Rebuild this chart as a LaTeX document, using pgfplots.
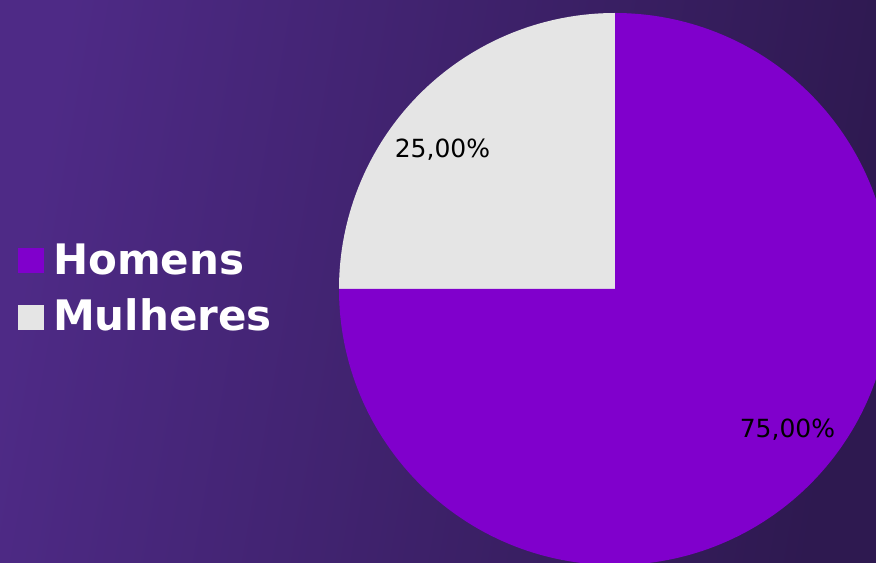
\documentclass[border=0pt]{standalone}
\usepackage{pgfplots}
\pgfplotsset{compat=1.18}
\usepackage{pgfplotstable}
\usepackage{fontspec}
\setmainfont{DejaVu Sans}

\definecolor{bgL}{HTML}{4E2A86}
\definecolor{bgM}{HTML}{45267A}
\definecolor{bgR}{HTML}{2E1950}
\definecolor{homens}{HTML}{8000CC}
\definecolor{mulheres}{HTML}{E5E5E5}

% share of each group, in %
\pgfplotstableread{
label    value
Homens   75
Mulheres 25
}\piedata

\begin{document}
\begin{tikzpicture}
\pgfplotstablegetelem{0}{value}\of\piedata \let\vH\pgfplotsretval
\pgfplotstablegetelem{1}{value}\of\piedata \let\vM\pgfplotsretval
\pgfmathsetmacro\angM{90+3.6*\vM}
\pgfmathsetmacro\angH{\angM+3.6*\vH}

\shade[left color=bgL, middle color=bgM, right color=bgR, shading angle=80] (0,0) rectangle (876bp,563bp);

\begin{axis}[
  x=1bp, y=1bp,
  xmin=0, xmax=876, ymin=0, ymax=563,
  hide axis,
  clip=true,
  at={(0,0)}, anchor=south west,
  /pgf/number format/assume math mode=true,
]
% pie: centre (615,274), radius 276 px
\fill[mulheres] (axis cs:615,274) -- ++(90:276bp)
  arc[start angle=90, end angle=\angM, radius=276bp] -- cycle;
\fill[homens] (axis cs:615,274) -- ++(\angM:276bp)
  arc[start angle=\angM, end angle=\angH, radius=276bp] -- cycle;

\node[anchor=base, inner sep=0, font=\fontsize{25bp}{30bp}\selectfont]
  at (axis cs:442.5,405) {\pgfmathprintnumber[fixed,fixed zerofill,precision=2,use comma,assume math mode=true]{\vM}\%};
\node[anchor=base, inner sep=0, font=\fontsize{25bp}{30bp}\selectfont]
  at (axis cs:787.5,126) {\pgfmathprintnumber[fixed,fixed zerofill,precision=2,use comma,assume math mode=true]{\vH}\%};

% legend
\fill[homens] (axis cs:18,290) rectangle (axis cs:44,315);
\fill[mulheres] (axis cs:18,233) rectangle (axis cs:44,258);
\node[anchor=base west, inner sep=0, text=white, font=\fontsize{42bp}{50bp}\selectfont\bfseries]
  at (axis cs:53,289) {Homens};
\node[anchor=base west, inner sep=0, text=white, font=\fontsize{42bp}{50bp}\selectfont\bfseries]
  at (axis cs:53,233) {Mulheres};
\end{axis}
\pgfresetboundingbox
\useasboundingbox (0,0) rectangle (876bp,563bp);
\end{tikzpicture}
\end{document}
